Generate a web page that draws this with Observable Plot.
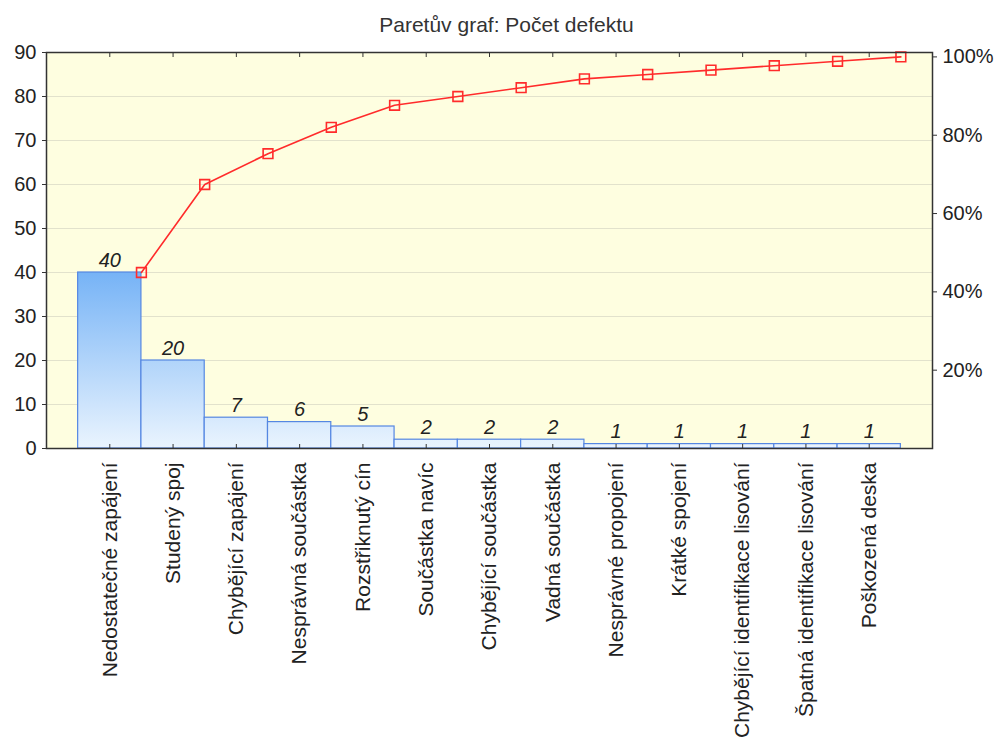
<!DOCTYPE html>
<html><head><meta charset="utf-8">
<script src="https://cdn.jsdelivr.net/npm/d3@7"></script>
<script src="https://cdn.jsdelivr.net/npm/@observablehq/plot@0.6"></script>
<style>
body{margin:0;background:#fff;font-family:"Liberation Sans",Arial,sans-serif;}
#title{height:40px;box-sizing:border-box;padding-top:13px;padding-left:16px;text-align:center;font-size:21px;line-height:24px;color:#333;}
</style></head><body>
<div id="title">Paretův graf: Počet defektu</div>
<div id="chart"></div>
<script>
const categories = [
  "Nedostatečné zapájení",
  "Studený spoj",
  "Chybějící zapájení",
  "Nesprávná součástka",
  "Rozstřiknutý cín",
  "Součástka navíc",
  "Chybějící součástka",
  "Vadná součástka",
  "Nesprávné propojení",
  "Krátké spojení",
  "Chybějící identifikace lisování",
  "Špatná identifikace lisování",
  "Poškozená deska"
];
const counts = [40, 20, 7, 6, 5, 2, 2, 2, 1, 1, 1, 1, 1];
const yTicks = [0, 10, 20, 30, 40, 50, 60, 70, 80, 90];
const pctTicks = [20, 40, 60, 80, 100];

const total = d3.sum(counts);
let run = 0;
const data = categories.map((c, i) => { run += counts[i]; return {c, i, n: counts[i], cum: run}; });

const font = "Liberation Sans, Arial, sans-serif";
const plot = Plot.plot({
  width: 997, height: 702,
  marginTop: 12, marginBottom: 294, marginLeft: 46, marginRight: 65,
  style: {fontFamily: font, fontSize: "20px", color: "#222", background: "transparent", overflow: "visible"},
  x: {type: "linear", domain: [-0.5, categories.length + 0.5]},
  y: {domain: [0, 90]},
  marks: [
    Plot.frame({fill: "#fefee0", stroke: null}),
    Plot.gridY(yTicks.filter(v => v > 0 && v < 90), {stroke: "#e2e2cc", strokeOpacity: 1}),
    Plot.rectY(data, {x1: d => d.i, x2: d => d.i + 1, y: "n", fill: "url(#barGrad)", stroke: "#5587e2", strokeWidth: 1.2}),
    Plot.text(data, {x: d => d.i + 0.5, y: "n", text: d => String(d.n), dy: -6, lineAnchor: "bottom", fontStyle: "italic", fontSize: 20, fill: "#222"}),
    Plot.line(data, {x: d => d.i + 1, y: "cum", stroke: "#ff2b2b", strokeWidth: 1.6}),
    Plot.dot(data, {x: d => d.i + 1, y: "cum", symbol: "square", r: 5.5, stroke: "#ff2b2b", strokeWidth: 1.6, fill: "none"}),
    Plot.frame({stroke: "#333", strokeWidth: 1.5}),
    Plot.axisY({anchor: "left", ticks: yTicks, tickSize: 4, tickPadding: 6, fontSize: 20, stroke: "#333"}),
    Plot.axisY({anchor: "right", ticks: pctTicks.map(p => p * total / 100), tickFormat: v => Math.round(v / total * 100) + "%", tickSize: 4, tickPadding: 6, fontSize: 20, stroke: "#333"}),
    Plot.axisX({anchor: "bottom", ticks: data.map(d => d.i + 0.5), tickFormat: v => categories[Math.round(v - 0.5)], tickRotate: -90, tickSize: 0, tickPadding: 14, fontSize: 21}),
    Plot.axisX({anchor: "bottom", ticks: data.map(d => d.i + 0.5), tickFormat: () => "", tickSize: -4, stroke: "#333"}),
    Plot.axisX({anchor: "top", ticks: data.map(d => d.i + 0.5), tickFormat: () => "", tickSize: -4, stroke: "#333"})
  ]
});

const ys = plot.scale("y");
const svg = d3.select(plot);
const defs = svg.insert("defs", ":first-child");
const g = defs.append("linearGradient").attr("id", "barGrad")
  .attr("gradientUnits", "userSpaceOnUse")
  .attr("x1", 0).attr("x2", 0)
  .attr("y1", ys.apply(0)).attr("y2", ys.apply(d3.max(counts)));
g.append("stop").attr("offset", 0).attr("stop-color", "#eaf4fe");
g.append("stop").attr("offset", 1).attr("stop-color", "#76b3f6");

document.getElementById("chart").appendChild(plot);
</script>
</body></html>
